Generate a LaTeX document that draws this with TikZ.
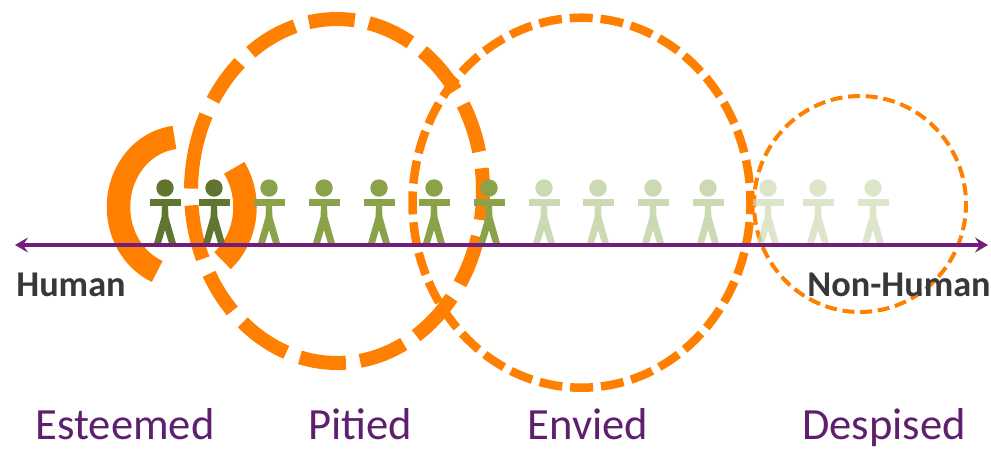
\documentclass[tikz,border=0pt]{standalone}
\usepackage{fontspec}
\setmainfont{Carlito}
\usepackage{xcolor}
\usetikzlibrary{arrows.meta,positioning}
\definecolor{ringorange}{HTML}{FF7F00}
\definecolor{axispurple}{HTML}{741C7C}
\definecolor{groupviolet}{HTML}{5E1F6E}
\definecolor{manDark}{HTML}{5F7530}
\definecolor{manMid}{HTML}{8AA34A}
\definecolor{manPale}{HTML}{CBDAB2}
\definecolor{manFaint}{HTML}{CEDBB5}
\tikzset{
    ring/.style={draw=ringorange, line cap=butt},
    darkman/.style={fill=manDark},
    midman/.style={fill=manMid},
    paleman/.style={fill=manPale},
    faintman/.style={fill=manFaint, fill opacity=0.7},
    endlabel/.style={font=\bfseries\fontsize{36.3}{38}\selectfont, text=black!78, anchor=base, inner sep=0pt},
    grouplabel/.style={font=\fontsize{44.6}{48}\selectfont, text=groupviolet, anchor=base, inner sep=0pt},
    pics/person/.style={code={
        \fill[#1] (0,-14) circle (8.7);
        \fill[#1] (-15.5,-3.5) rectangle (15.5,3.5);
        \fill[#1] (-3,3.5) -- (3,3.5) -- (3.5,15) -- (11.5,43) -- (4.5,43) -- (0,28) -- (-4.5,43) -- (-11.5,43) -- (-3.5,15) -- cycle;
    }}
}
\begin{document}
\begin{tikzpicture}[x=1pt,y=-1pt]
    \useasboundingbox (0,0) rectangle (991,451);

    % Esteemed ring, two thick arcs
    \coordinate (esteemedC) at (182,207);
    \draw[ring, line width=23.5pt] (esteemedC) ++(-96.8:63.5 and 70) arc[start angle=-96.8, end angle=-247, x radius=63.5, y radius=70];
    \draw[ring, line width=23.5pt] (esteemedC) ++(-34:63 and 70) arc[start angle=-34, end angle=50, x radius=63, y radius=70];

    % Envied and Despised rings
    \draw[ring, line width=8.5pt, dash pattern=on 23pt off 7.9pt, dash phase=11.5pt] (581.5,202.7) circle[x radius=169, y radius=185];
    \draw[ring, line width=4pt, dash pattern=on 12pt off 5.7pt, dash phase=3.3pt] (860,204) circle[x radius=106, y radius=108];

    % Pitied ring, dash by dash
    \coordinate (pitiedC) at (337,191);
    \foreach \a/\b in {-101.1/-83, -77.4/-59.8, -54.2/-35.8, -30.2/-13.2, -7.6/9.7, 15.3/32.7, 38.3/57.2, 62.8/80.9,
        86.5/104.7, 110.3/130.2, 135.8/151.2, 156.8/175.2, 180.8/206.2, 211.8/228.2, 233.8/253.3}
        \draw[ring, line width=14pt] (pitiedC) ++(\a:146 and 172) arc[start angle=\a, end angle=\b, x radius=146, y radius=172];

    % People along the line
    \foreach \x/\shade in {165/darkman, 214/darkman, 269/midman, 324/midman, 379/midman, 434/midman, 489/midman,
        544/paleman, 598/paleman, 653/paleman, 708/paleman, 768/faintman, 818/faintman, 873/faintman}
        \pic at (\x,202) {person=\shade};

    % Axis
    \coordinate (humanEnd) at (15,245);
    \coordinate (nonHumanEnd) at (988,245);
    \draw[axispurple, line width=3.2pt, {Stealth[length=13pt,width=15pt,inset=5pt]}-{Stealth[length=13pt,width=15pt,inset=5pt]}] (humanEnd) -- (nonHumanEnd);

    % End labels
    \node[endlabel] (human) at (71,296.5) {Human};
    \node[endlabel] (nonHuman) at (899,296.5) {Non-Human};

    % Group labels
    \node[grouplabel] (esteemed) at (125,439.5) {Esteemed};
    \node[grouplabel] (pitied) at (360,439.5) {Pitied};
    \node[grouplabel] (envied) at (588,439.5) {Envied};
    \node[grouplabel] (despised) at (884,439.5) {Despised};
\end{tikzpicture}
\end{document}
